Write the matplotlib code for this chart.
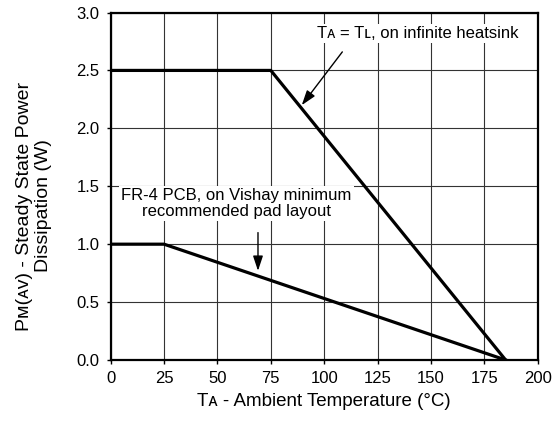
import matplotlib
matplotlib.use("Agg")
import matplotlib.pyplot as plt

plt.rcParams['font.family'] = ['Liberation Sans', 'DejaVu Sans']

# derating curves
temp_heatsink = [0, 75, 185]
power_heatsink = [2.5, 2.5, 0.0]
temp_pcb = [0, 25, 185]
power_pcb = [1.0, 1.0, 0.0]

x_ticks = [0, 25, 50, 75, 100, 125, 150, 175, 200]
y_ticks = [0.0, 0.5, 1.0, 1.5, 2.0, 2.5, 3.0]

fig = plt.figure(figsize=(5.57, 4.24), dpi=100)
ax = fig.add_axes([0.1987, 0.1509, 0.7666, 0.8196])

ax.plot(temp_heatsink, power_heatsink, color='black', lw=2.3, solid_joinstyle='miter', zorder=3)
ax.plot(temp_pcb, power_pcb, color='black', lw=2.3, solid_joinstyle='miter', zorder=3)

ax.set_xlim(0, 200)
ax.set_ylim(0, 3.0)
ax.set_xticks(x_ticks)
ax.set_yticks(y_ticks)
ax.set_yticklabels(['%.1f' % v for v in y_ticks])
ax.grid(True, color='#333333', lw=0.8)
ax.set_axisbelow(True)
for s in ax.spines.values():
    s.set_linewidth(1.6)
ax.tick_params(direction='out', length=3, width=1, labelsize=12, pad=5)

# axis titles placed as figure text to match the datasheet layout
fig.text(324 / 557, 1 - 402 / 424, 'T\u1D00 - Ambient Temperature (°C)', fontsize=13.5,
         ha='center', va='center')
fig.text(34 / 557, 1 - 206 / 424, 'P\u1D0D(\u1D00\u1D20) - Steady State Power\nDissipation (W)',
         fontsize=14, rotation=90, ha='center', va='center', multialignment='center',
         linespacing=1.15)

box = dict(facecolor='white', edgecolor='none', pad=1.5)
arrow = dict(arrowstyle='-|>,head_length=0.9,head_width=0.3', color='black',
             lw=1, shrinkA=0, shrinkB=0)

ax.text(144, 2.82, 'T\u1D00 = T\u029F, on infinite heatsink', ha='center', va='center',
        fontsize=12, bbox=box, zorder=4)
ax.annotate('', xy=(89.5, 2.2), xytext=(108.5, 2.66), arrowprops=arrow, zorder=4)

ax.text(59, 1.35, 'FR-4 PCB, on Vishay minimum\nrecommended pad layout', ha='center', va='center',
        fontsize=12, bbox=box, linespacing=1.05, zorder=4)
ax.annotate('', xy=(69, 0.77), xytext=(69, 1.1), arrowprops=arrow, zorder=4)

fig.savefig('out.png', dpi=100)
